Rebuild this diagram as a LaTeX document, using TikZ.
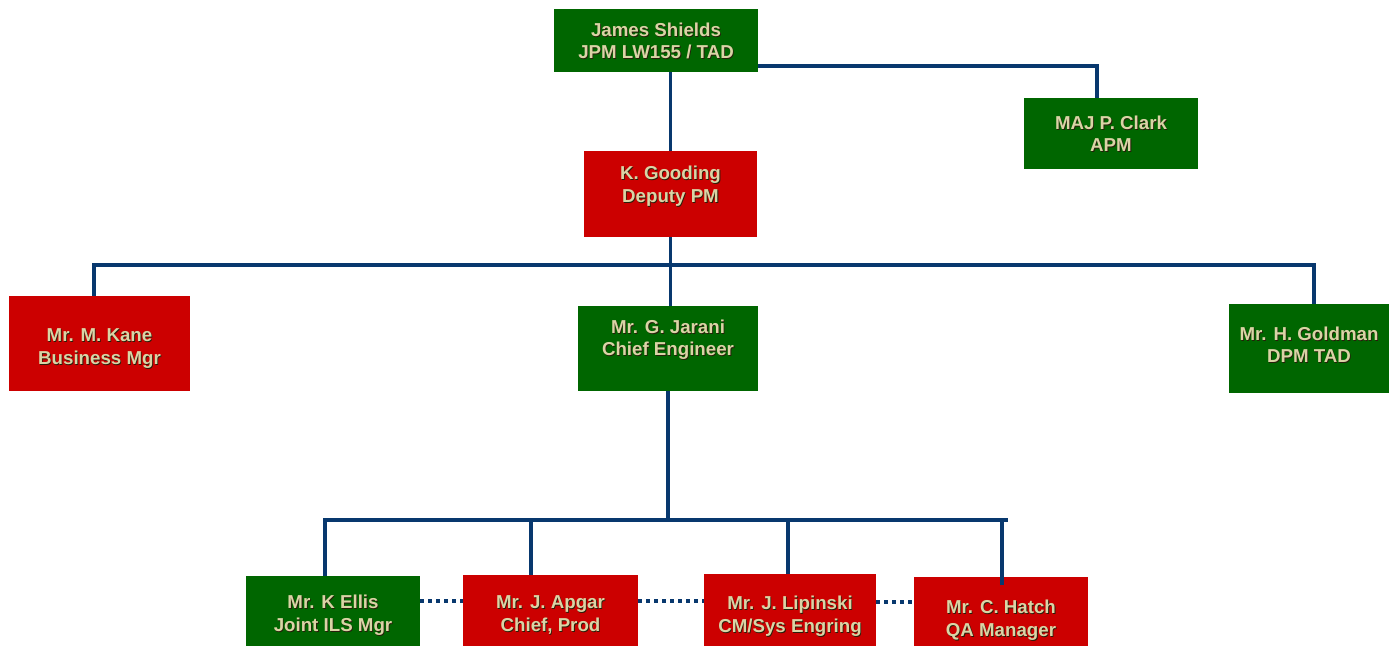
\documentclass[tikz,border=0pt]{standalone}
\usepackage{fontspec}
\setmainfont{Liberation Sans}
\definecolor{grn}{RGB}{0,102,0}
\definecolor{rd}{RGB}{204,0,0}
\definecolor{navy}{RGB}{8,56,110}
\definecolor{txt}{RGB}{218,212,166}
\definecolor{shd}{RGB}{40,30,10}
\newcommand\tabtwo[2]{\begin{tabular}{@{}c@{}}#1\\#2\end{tabular}}
\newcommand\tx[3]{\raisebox{#1}[0pt][0pt]{\makebox[0pt]{\raisebox{-1pt}{\hspace{1.6pt}\color{shd}\tabtwo{#2}{#3}}}\makebox[0pt]{\color{txt}\tabtwo{#2}{#3}}}}
\tikzset{
  orgbox/.style={draw=none, inner sep=0pt, font=\bfseries\fontsize{18.7}{22.5}\selectfont},
  gbox/.style={orgbox, fill=grn},
  rbox/.style={orgbox, fill=rd},
  conn/.style={draw=navy, line width=3.6pt},
  dotconn/.style={draw=navy, line width=3.6pt, dash pattern=on 4pt off 4pt}
}
\begin{document}
\begin{tikzpicture}[x=1pt,y=-1pt]
\useasboundingbox (0,0) rectangle (1389,645);
\clip (0,0) rectangle (1389,645);
% boxes
\node[gbox, minimum width=204pt, minimum height=63pt] (shields) at (656,40.5) {\tx{-7pt}{James Shields}{JPM LW155 / TAD}};
\node[gbox, minimum width=174pt, minimum height=71pt] (clark) at (1111,133.5) {\tx{-7pt}{MAJ P. Clark}{APM}};
\node[rbox, minimum width=173pt, minimum height=86pt] (gooding) at (670.5,194) {\tx{3pt}{K. Gooding}{Deputy PM}};
\node[rbox, minimum width=181pt, minimum height=95pt] (kane) at (99.5,343.5) {\tx{-9.5pt}{Mr. M. Kane}{Business Mgr}};
\node[gbox, minimum width=180pt, minimum height=85pt] (jarani) at (668,348.5) {\tx{4pt}{Mr. G. Jarani}{Chief Engineer}};
\node[gbox, minimum width=160pt, minimum height=89pt] (goldman) at (1309,348.5) {\tx{-3pt}{Mr. H. Goldman}{DPM TAD}};
\node[gbox, minimum width=174pt, minimum height=90pt] (ellis) at (333,621) {\tx{1pt}{Mr. K Ellis}{Joint ILS Mgr}};
\node[rbox, minimum width=175pt, minimum height=90pt] (apgar) at (550.5,620) {\tx{0pt}{Mr. J. Apgar}{Chief, Prod}};
\node[rbox, minimum width=172pt, minimum height=90pt] (lipinski) at (790,619) {\tx{-2pt}{Mr. J. Lipinski}{CM/Sys Engring}};
\node[rbox, minimum width=174pt, minimum height=90pt] (hatch) at (1001,622) {\tx{-3pt}{Mr. C. Hatch}{QA Manager}};
% bus coordinates
\coordinate (bus1) at (670,265);
\coordinate (bus2) at (668,520);
\coordinate (busend) at (1008,520);
% connectors
\draw[conn] (gooding.north |- shields.south) -- (gooding.north);
\draw[conn] ([yshift=6pt]shields.south east) -| ([xshift=-14pt]clark.north);
\draw[conn] (gooding.south) -- (gooding.south |- jarani.north);
\draw[conn] ([xshift=-5.5pt]kane.north) |- (bus1) -| ([xshift=5pt]goldman.north);
\draw[conn] (jarani.south) -- (bus2);
\draw[conn] ([xshift=-8pt]ellis.north) |- (busend);
\draw[conn] ([xshift=-19.5pt]apgar.north) -- ([xshift=-19.5pt]apgar.north |- bus2);
\draw[conn] ([xshift=-2pt]lipinski.north) -- ([xshift=-2pt]lipinski.north |- bus2);
\draw[conn] ([xshift=1pt,yshift=-8pt]hatch.north) -- ([xshift=1pt]hatch.north |- bus2);
\draw[dotconn] ([yshift=20pt]ellis.east) -- ([yshift=20pt]ellis.east -| apgar.west);
\draw[dotconn] ([yshift=19pt]apgar.east) -- ([yshift=19pt]apgar.east -| lipinski.west);
\draw[dotconn] ([yshift=17pt]lipinski.east) -- ([yshift=17pt]lipinski.east -| hatch.west);
\end{tikzpicture}
\end{document}
